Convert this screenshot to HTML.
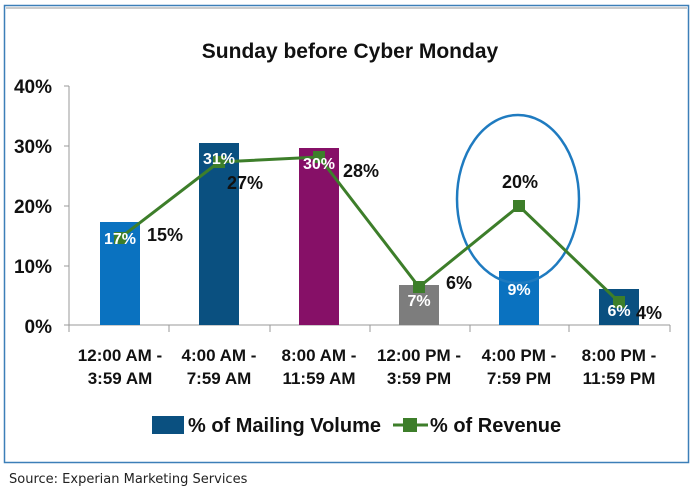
<!DOCTYPE html>
<html><head><style>
body{margin:0;background:#fff;width:691px;height:497px;overflow:hidden}
text{font-family:"Liberation Sans Narrow","Liberation Sans",sans-serif;font-weight:bold}
</style></head><body>
<svg width="691" height="497" xmlns="http://www.w3.org/2000/svg">
<rect x="4.5" y="5.5" width="684" height="457" fill="#fff" stroke="#3c7fb8" stroke-width="1.5"/>
<rect x="6" y="7" width="681" height="2" fill="#ccc"/>
<text x="350" y="58" font-size="21" text-anchor="middle" fill="#111" transform="scale(1,1)">Sunday before Cyber Monday</text>
<g font-size="19" fill="#111" text-anchor="end">
<text x="52" y="93">40%</text><text x="52" y="153">30%</text><text x="52" y="213">20%</text><text x="52" y="273">10%</text><text x="52" y="333">0%</text>
</g>
<g stroke="#999" stroke-width="1">
<line x1="69" y1="86" x2="69" y2="332"/>
<line x1="64" y1="86" x2="69" y2="86"/><line x1="64" y1="146" x2="69" y2="146"/><line x1="64" y1="206" x2="69" y2="206"/><line x1="64" y1="266" x2="69" y2="266"/>
<line x1="64" y1="325" x2="670" y2="325"/>
<line x1="169" y1="325" x2="169" y2="332"/><line x1="270" y1="325" x2="270" y2="332"/><line x1="370" y1="325" x2="370" y2="332"/><line x1="470" y1="325" x2="470" y2="332"/><line x1="569" y1="325" x2="569" y2="332"/><line x1="670" y1="325" x2="670" y2="332"/>
</g>
<rect x="100" y="222" width="40" height="103" fill="#0a72c0"/>
<rect x="199" y="143" width="40" height="182" fill="#0a5080"/>
<rect x="299" y="148" width="40" height="177" fill="#861067"/>
<rect x="399" y="285" width="40" height="40" fill="#7d7d7d"/>
<rect x="499" y="271" width="40" height="54" fill="#0a72c0"/>
<rect x="599" y="289" width="40" height="36" fill="#0a5080"/>
<ellipse cx="518" cy="199" rx="61" ry="84" fill="none" stroke="#1f7bc0" stroke-width="2.5"/>
<polyline points="120,238 219,162 319,157 419,287 519,206 619,302" fill="none" stroke="#3d7e2a" stroke-width="3"/>
<g fill="#3d7e2a">
<rect x="114" y="232" width="12" height="12"/><rect x="213" y="156" width="12" height="12"/><rect x="313" y="151" width="12" height="12"/><rect x="413" y="281" width="12" height="12"/><rect x="513" y="200" width="12" height="12"/><rect x="613" y="296" width="12" height="12"/>
</g>
<g font-size="16" fill="#fff" text-anchor="middle">
<text x="120" y="244">17%</text><text x="219" y="164">31%</text><text x="319" y="169">30%</text><text x="419" y="306">7%</text><text x="519" y="295">9%</text><text x="619" y="316">6%</text>
</g>
<g font-size="18" fill="#111">
<text x="147" y="241">15%</text><text x="227" y="189">27%</text><text x="343" y="177">28%</text><text x="446" y="289">6%</text><text x="502" y="188">20%</text><text x="636" y="319">4%</text>
</g>
<g font-size="17" fill="#111" text-anchor="middle">
<text x="120" y="361">12:00 AM -</text><text x="120" y="384">3:59 AM</text>
<text x="219" y="361">4:00 AM -</text><text x="219" y="384">7:59 AM</text>
<text x="319" y="361">8:00 AM -</text><text x="319" y="384">11:59 AM</text>
<text x="419" y="361">12:00 PM -</text><text x="419" y="384">3:59 PM</text>
<text x="519" y="361">4:00 PM -</text><text x="519" y="384">7:59 PM</text>
<text x="619" y="361">8:00 PM -</text><text x="619" y="384">11:59 PM</text>
</g>
<rect x="152" y="416" width="32" height="18" fill="#0a5080"/>
<text x="188" y="432" font-size="20" fill="#111">% of Mailing Volume</text>
<line x1="393" y1="425" x2="428" y2="425" stroke="#3d7e2a" stroke-width="3"/>
<rect x="403" y="418" width="14" height="14" fill="#3d7e2a"/>
<text x="430" y="432" font-size="20" fill="#111">% of Revenue</text>
<text x="9" y="483" font-size="13" style="font-family:'DejaVu Sans',sans-serif;font-weight:normal" fill="#222">Source: Experian Marketing Services</text>
</svg>
</body></html>
